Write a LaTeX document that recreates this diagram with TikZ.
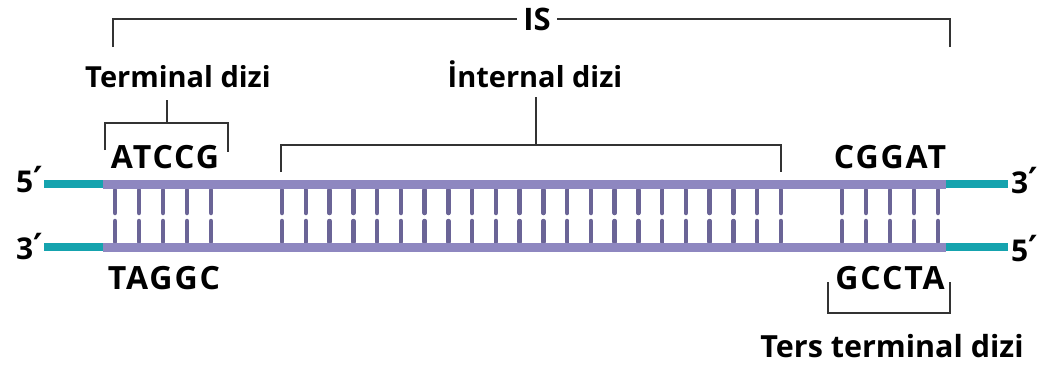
\documentclass[tikz,border=0pt]{standalone}
\usepackage{fontspec}
\setmainfont{Open Sans}
\newfontfamily\primefont{DejaVu Sans}
\newcommand{\pr}{{\primefont\bfseries\fontsize{36}{36}\selectfont ′}}
\begin{document}
\begin{tikzpicture}[x=1pt,y=-1pt,
  lbl/.style={font=\bfseries\fontsize{29}{29}\selectfont, inner sep=0pt, anchor=base},
  seq/.style={font=\bfseries\fontsize{32}{32}\selectfont\addfontfeature{LetterSpace=6}, inner sep=0pt, anchor=base},
  endlbl/.style={font=\bfseries\fontsize{30}{30}\selectfont, inner sep=0pt, anchor=base west},
  brk/.style={draw=black!80, line width=1.3pt},
  strand/.style={draw=strandc, line width=9pt},
  tail/.style={draw=tealc, line width=8pt},
  rung/.style={draw=rungc, line width=4.5pt, line cap=round}]
\definecolor{strandc}{HTML}{8E87C0}
\definecolor{tealc}{HTML}{15A3AE}
\definecolor{rungc}{HTML}{6A6496}
\useasboundingbox (0,0) rectangle (1044,375);
% coordinates
\coordinate (tL) at (44,184); \coordinate (tA) at (103,184);
\coordinate (tB) at (946,184); \coordinate (tR) at (1008,184);
\coordinate (bL) at (44,247); \coordinate (bA) at (103,247);
\coordinate (bB) at (946,247); \coordinate (bR) at (1008,247);
% rungs
\foreach \x in {115,139,163,187,211, 842,866,890,914,938}{
  \draw[rung] (\x,190) -- (\x,213);
  \draw[rung] (\x,221) -- (\x,242);}
\foreach \i in {0,...,21}{
  \pgfmathsetmacro{\x}{282+\i*23.76}
  \draw[rung] (\x,190) -- (\x,213);
  \draw[rung] (\x,221) -- (\x,242);}
% strands
\draw[tail] (tL) -- (tA);
\draw[tail] (bL) -- (bA);
\draw[tail] (tB) -- (tR);
\draw[tail] (bB) -- (bR);
\draw[strand] (tA) -- (tB);
\draw[strand] (bA) -- (bB);
% end labels
\node[endlbl] (p5l) at (16,192) {5\pr};
\node[endlbl] (p3l) at (16,259) {3\pr};
\node[endlbl] (p3r) at (1011,193) {3\pr};
\node[endlbl] (p5r) at (1011,261) {5\pr};
% sequence labels
\node[seq] (atccg) at (165,168) {ATCCG};
\node[seq] (taggc) at (164,289) {TAGGC};
\node[seq] (cggat) at (890,168) {CGGAT};
\node[seq] (gccta) at (890,289) {GCCTA};
% titles
\node[lbl] (term) at (178,87) {Terminal dizi};
\node[lbl] (intl) at (535,87) {İnternal dizi};
\node[lbl, font=\bfseries\fontsize{30.5}{30}\selectfont] (ters) at (892,357) {Ters terminal dizi};
\node[lbl, font=\bfseries\fontsize{31}{31}\selectfont, fill=white, inner xsep=6pt] (is) at (537,30) {IS};
% IS bracket
\coordinate (isL) at (113,47); \coordinate (isR) at (950,47);
\draw[brk] (isL) |- (is.west);
\draw[brk] (isR) |- (is.east);
% terminal bracket
\coordinate (trL) at (105,150); \coordinate (trR) at (228,152);
\coordinate (trM) at (167,123);
\draw[brk] (trL) |- (trM) -| (trR);
\draw[brk] (trM) -- (167,100);
% internal bracket
\coordinate (inL) at (281,172); \coordinate (inR) at (781,172);
\coordinate (inM) at (536,145);
\draw[brk] (inL) |- (inM) -| (inR);
\draw[brk] (inM) -- (536,97);
% ters terminal bracket
\coordinate (tsL) at (828,282); \coordinate (tsR) at (950,282);
\draw[brk] (tsL) |- (889,313) -| (tsR);
\end{tikzpicture}
\end{document}
